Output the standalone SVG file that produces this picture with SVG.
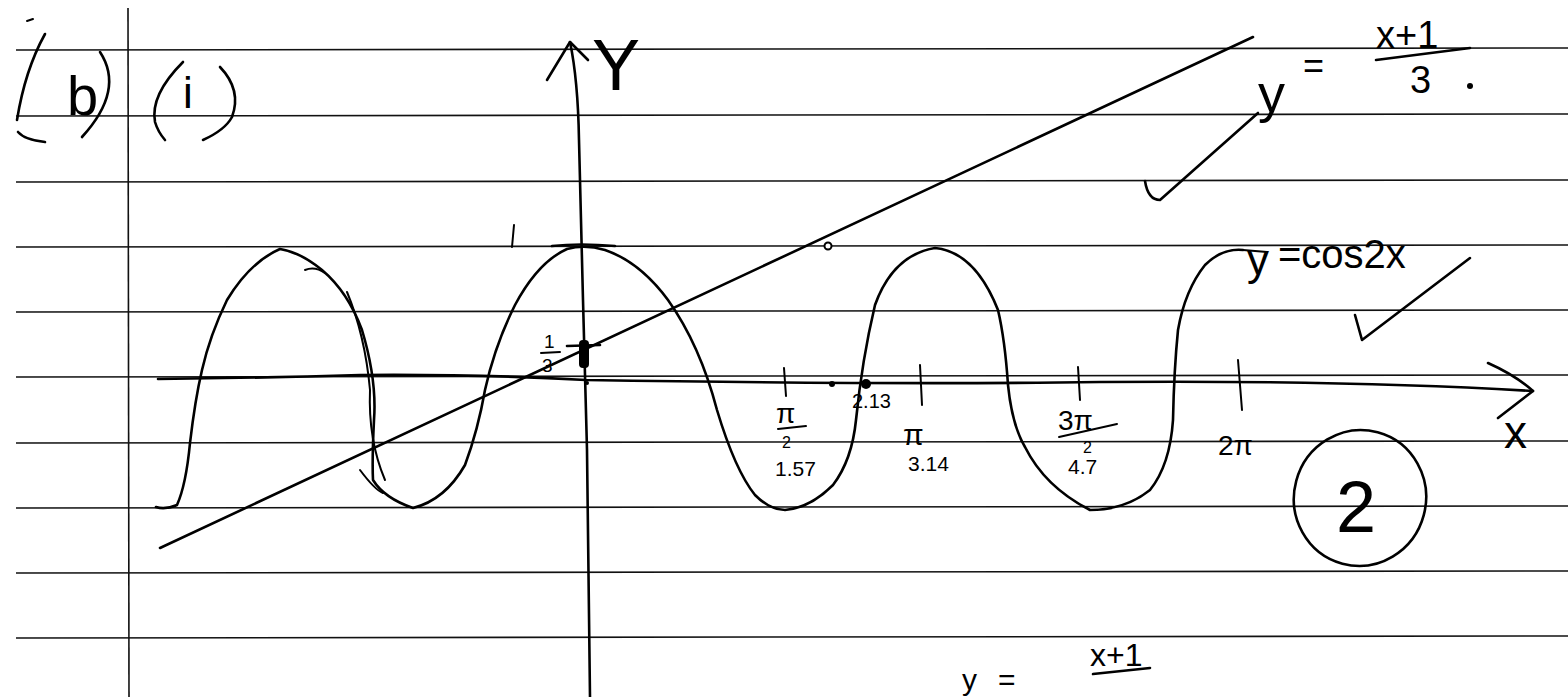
<svg xmlns="http://www.w3.org/2000/svg" width="1568" height="697" viewBox="0 0 1568 697">
<defs>
<style>
.rule{stroke:#111;stroke-width:1.6;fill:none}
.ink{stroke:#000;stroke-width:2.6;fill:none;stroke-linecap:round;stroke-linejoin:round}
.thin{stroke:#000;stroke-width:2;fill:none;stroke-linecap:round;stroke-linejoin:round}
.t{font-family:"Liberation Sans","DejaVu Sans",sans-serif;fill:#000}
</style>
</defs>
<rect width="1568" height="697" fill="#fff"/>
<g id="paper">
<line class="rule" x1="16" y1="50" x2="1568" y2="48"/>
<line class="rule" x1="16" y1="116" x2="1568" y2="114"/>
<line class="rule" x1="16" y1="182" x2="1568" y2="180"/>
<line class="rule" x1="16" y1="247" x2="1568" y2="245"/>
<line class="rule" x1="16" y1="312" x2="1568" y2="310"/>
<line class="rule" x1="16" y1="377" x2="1568" y2="375"/>
<line class="rule" x1="16" y1="443" x2="1568" y2="441"/>
<line class="rule" x1="16" y1="508" x2="1568" y2="506"/>
<line class="rule" x1="16" y1="573" x2="1568" y2="571"/>
<line class="rule" x1="16" y1="638" x2="1568" y2="636"/>
<line class="rule" x1="128" y1="8" x2="129" y2="697"/>
</g>
<g id="part-label">
<path class="thin" d="M27 21 L33 19"/>
<path class="ink" d="M45 34 Q25 70 17 120"/>
<path class="ink" d="M18 132 Q25 140 45 142"/>
<text class="t" x="67" y="115" font-size="56">b</text>
<path class="ink" d="M100 52 Q125 90 82 137"/>
<path class="ink" d="M183 62 Q150 95 155 122 Q158 132 165 140"/>
<text class="t" x="183" y="108" font-size="44">i</text>
<path class="ink" d="M220 67 Q242 90 232 117 Q225 130 203 140"/>
</g>
<g id="axes">
<path class="ink" d="M158 379 Q260 378 360 375 Q480 374 586 380 Q900 385 1100 382 Q1350 380 1533 391"/>
<path class="ink" d="M1488 363 Q1515 375 1533 391 L1498 418"/>
<path class="ink" d="M570 42 Q578 80 579 140 L583 300 L587 450 L590 697"/>
<path class="ink" d="M547 80 L570 42 L588 60"/>
</g>
<g id="cos-curve">
<path class="ink" d="M156 507 Q165 510 177 505 Q186 485 190 443 Q195 400 202 370 Q210 335 227 300 Q250 262 280 249 Q300 252 322 270 Q348 292 362 330 Q377 380 374 420 Q372 460 373 480 Q384 498 413 508 Q445 500 465 465 Q478 430 485 390 Q495 345 515 305 Q538 262 567 249 Q585 244 605 250 Q640 262 668 300 Q700 345 717 410 Q735 470 755 495 Q770 510 785 510 Q810 508 833 485 Q852 460 856 420 Q862 360 875 305 Q893 255 935 248 Q975 252 998 310 Q1005 340 1008 385 Q1012 425 1025 447 Q1045 487 1090 510 Q1125 510 1150 490 Q1170 465 1173 420 Q1174 370 1178 330 Q1185 290 1205 265 Q1222 248 1243 250"/>
<path class="thin" d="M1243 250 L1267 252"/>
<path class="thin" d="M305 270 Q315 266 325 273"/>
<path class="thin" d="M347 292 Q365 335 370 390 Q368 440 385 480"/>
<path class="thin" d="M360 470 Q375 490 383 493"/>
</g>
<g id="line-graph">
<path class="ink" d="M160 548 L1253 37"/>
<circle cx="828" cy="246" r="3.5" fill="#fff" stroke="#000" stroke-width="2"/>
</g>
<g id="marks">
<path class="thin" d="M514 225 L512 247"/>
<path class="ink" d="M552 246 Q580 243 615 246"/>
<path class="ink" d="M567 346 L600 345"/>
<rect x="579" y="340" width="10" height="28" rx="4" fill="#000"/>
<circle cx="587" cy="383" r="2" fill="#000"/>
<text class="t" x="544" y="348" font-size="19">1</text>
<line class="thin" x1="541" y1="353" x2="560" y2="352"/>
<text class="t" x="542" y="372" font-size="19">3</text>
<path class="thin" d="M784 368 L786 396"/>
<circle cx="832" cy="384" r="3" fill="#000"/>
<circle cx="866" cy="384" r="5" fill="#000"/>
<path class="thin" d="M920 365 L922 405"/>
<path class="thin" d="M1078 367 L1080 400"/>
<path class="thin" d="M1238 360 L1242 410"/>
</g>
<g id="tick-labels">
<text class="t" x="776" y="423" font-size="28">π</text>
<line class="thin" x1="778" y1="429" x2="806" y2="426"/>
<text class="t" x="782" y="448" font-size="16">2</text>
<text class="t" x="775" y="476" font-size="21">1.57</text>
<text class="t" x="852" y="408" font-size="20">2.13</text>
<text class="t" x="903" y="445" font-size="30">π</text>
<text class="t" x="908" y="471" font-size="21">3.14</text>
<text class="t" x="1058" y="430" font-size="28">3π</text>
<line class="thin" x1="1059" y1="437" x2="1117" y2="424"/>
<text class="t" x="1083" y="453" font-size="16">2</text>
<text class="t" x="1068" y="474" font-size="21">4.7</text>
<text class="t" x="1218" y="455" font-size="28">2π</text>
<text class="t" x="1504" y="448" font-size="46">x</text>
<text class="t" x="592" y="90" font-size="72">Y</text>
</g>
<g id="labels">
<text class="t" x="1247" y="275" font-size="44">y</text>
<text class="t" x="1278" y="268" font-size="40">=cos2x</text>
<path class="ink" d="M1355 315 L1362 340 L1470 258"/>
<text class="t" x="1258" y="112" font-size="54">y</text>
<text class="t" x="1303" y="78" font-size="36">=</text>
<text class="t" x="1376" y="48" font-size="38">x+1</text>
<line class="ink" x1="1376" y1="60" x2="1470" y2="48"/>
<text class="t" x="1410" y="93" font-size="38">3</text>
<circle cx="1470" cy="86" r="3" fill="#000"/>
<path class="ink" d="M1145 181 Q1148 200 1160 200 L1258 113"/>
<ellipse cx="1360" cy="498" rx="66" ry="68" transform="rotate(15 1360 498)" class="ink"/>
<text class="t" x="1336" y="532" font-size="72">2</text>
<text class="t" x="962" y="690" font-size="30">y</text>
<text class="t" x="998" y="690" font-size="30">=</text>
<text class="t" x="1090" y="666" font-size="32">x+1</text>
<line class="ink" x1="1093" y1="674" x2="1150" y2="668"/>
</g>
</svg>
